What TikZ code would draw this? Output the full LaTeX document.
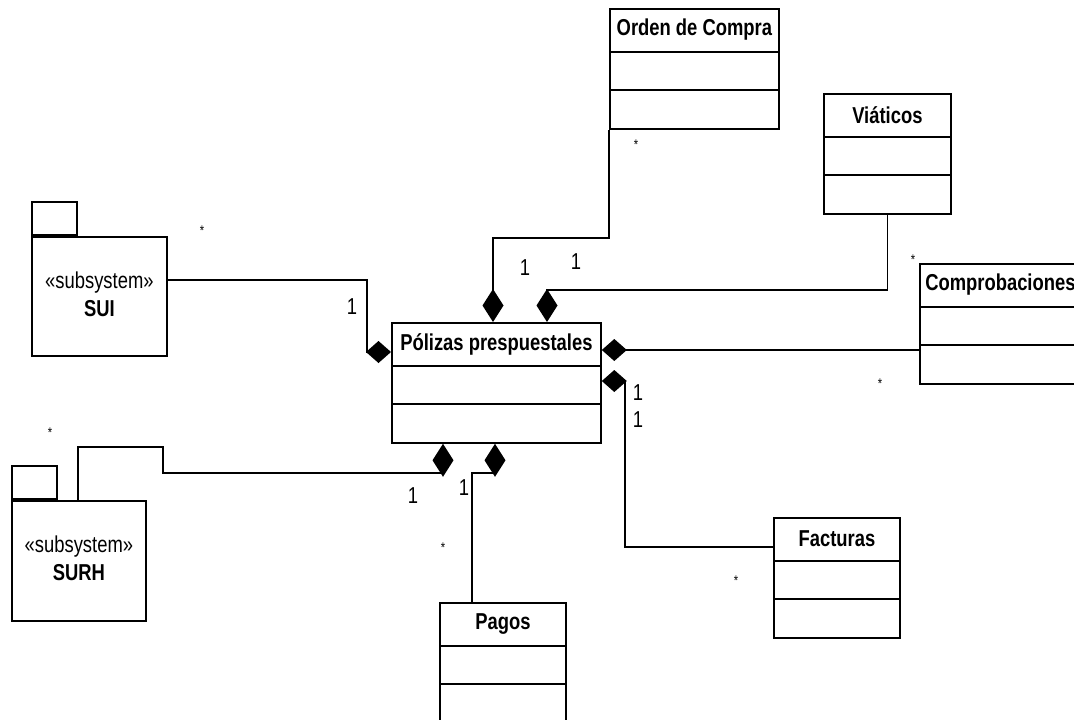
\documentclass[tikz,border=0pt]{standalone}
\usepackage{fontspec}
\setmainfont[FakeStretch=0.8]{Liberation Sans}
\usetikzlibrary{arrows.meta}

\tikzset{
    box/.style={draw, line width=1.8pt, inner sep=0pt, anchor=north west},
    comph/.style={line width=1.6pt, -{Diamond[length=25pt,width=22pt]}},
    compv/.style={line width=1.6pt, -{Diamond[length=33pt,width=21pt]}},
    mult/.style={inner sep=0pt},
    star/.style={inner sep=0pt, font=\fontsize{14}{14}\selectfont}
}

\NewDocumentCommand{\drawclass}{m m m m m}{
    % name, left, top, width, title
    \node[box, minimum width=#4pt, minimum height=120pt] (#1) at (#2,#3) {};
    \node[font=\fontsize{23}{28}\selectfont\bfseries, inner sep=0pt] (#1-title) at ([yshift=-22pt]#1.north) {#5};
    \draw[line width=1.8pt] ([yshift=-44pt]#1.north west) -- ([yshift=-44pt]#1.north east);
    \draw[line width=1.8pt] ([yshift=-82pt]#1.north west) -- ([yshift=-82pt]#1.north east);
}
\NewDocumentCommand{\drawpackage}{m m m m m m}{
    % name, left, top, width, height, label
    \node[box, minimum width=#4pt, minimum height=#5pt] (#1) at (#2,#3) {};
    \node[box, minimum width=45pt, minimum height=33pt, anchor=south west] (#1-tab) at (#1.north west) {};
    \node[align=center, inner sep=0pt] (#1-label) at ([yshift=-58pt]#1.north) {«subsystem»\\\textbf{#6}};
}

\begin{document}
\begin{tikzpicture}[x=1pt, y=-1pt, font=\fontsize{23}{28}\selectfont]
    \useasboundingbox (0,0) rectangle (1074,720);
    \clip (0,0) rectangle (1074,720);

    % Classes
    \drawclass{pol}{391}{322}{209}{Pólizas prespuestales}
    \drawclass{odc}{609}{8}{169}{Orden de Compra}
    \drawclass{viat}{823}{93}{127}{Viáticos}
    \drawclass{comp}{919}{263}{161}{Comprobaciones}
    \drawclass{fact}{773}{517}{126}{Facturas}
    \drawclass{pagos}{439}{602}{126}{Pagos}

    % Subsystems
    \drawpackage{sui}{31}{236}{135}{119}{SUI}
    \drawpackage{surh}{11}{500}{134}{120}{SURH}

    % Compositions
    \draw[comph] (sui.east |- 0,280) -| (367,352) -- (pol.west |- 0,352);
    \draw[compv] (odc.south west) |- (493,238) -- (pol.north -| 493,0);
    \draw[compv] (viat.south) |- (547,290) -- (pol.north -| 547,0);
    \draw[comph] (comp.west |- 0,350) -- (pol.east |- 0,350);
    \draw[comph] (fact.west |- 0,547) -| (625,381) -- (pol.east |- 0,381);
    \draw[compv] (pagos.north -| 472,0) |- (495,473) -- (pol.south -| 495,0);
    \draw[compv] (surh.north -| 78,0) |- (163,447) |- (443,473) -- (pol.south -| 443,0);

    % Multiplicities
    \node[mult] (m-sui) at (352,307) {1};
    \node[star] (s-sui) at (202,231) {*};
    \node[mult] (m-odc) at (525,268) {1};
    \node[star] (s-odc) at (636,145) {*};
    \node[mult] (m-viat) at (576,262) {1};
    \node[star] (s-viat) at (913,260) {*};
    \node[star] (s-comp) at (880,384) {*};
    \node[mult] (m-comp) at (638,393) {1};
    \node[mult] (m-fact) at (638,420) {1};
    \node[star] (s-fact) at (736,581) {*};
    \node[mult] (m-pagos) at (464,488) {1};
    \node[star] (s-pagos) at (443,548) {*};
    \node[mult] (m-surh) at (413,496) {1};
    \node[star] (s-surh) at (50,433) {*};
\end{tikzpicture}
\end{document}
